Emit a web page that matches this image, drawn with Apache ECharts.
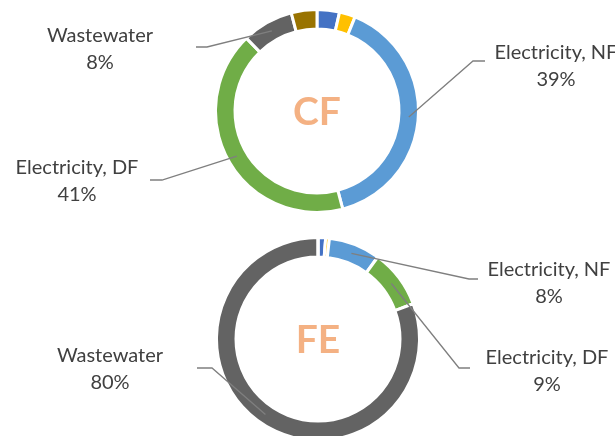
<!DOCTYPE html>
<html>
<head>
<meta charset="utf-8">
<script src="https://cdn.jsdelivr.net/npm/echarts@6/dist/echarts.min.js"></script>
<style>
html,body{margin:0;padding:0;background:#fff;}
#chart{width:615px;height:436px;}
</style>
</head>
<body>
<div id="chart"></div>
<script>
// ---- data ----
var categories = ['Other A', 'Other B', 'Electricity, NF', 'Electricity, DF', 'Wastewater', 'Other C'];
var cfValues = [3.5, 2.5, 39, 41, 8, 4];
var feValues = [1.2, 0.6, 8.2, 9.3, 80.4, 0];
var labeledCategories = ['Electricity, NF', 'Electricity, DF', 'Wastewater'];
var seriesNames = ['CF', 'FE'];
var colors = ['#4472C4', '#FFC000', '#5B9BD5', '#70AD47', '#636363', '#997300'];

// ---- layout (positions of labels / centers) ----
var centers = [[317, 111], [318, 339]];
var ringMid = 92;
var labelPos = {
  CF: {
    'Wastewater':      {x: 100, y: 22,  bx: 207, by: 47,  ex: 196, ey: 47},
    'Electricity, NF': {x: 556, y: 39,  bx: 473, by: 61,  ex: 485, ey: 61},
    'Electricity, DF': {x: 77,  y: 154, bx: 162, by: 180, ex: 150, ey: 180}
  },
  FE: {
    'Wastewater':      {x: 110, y: 342, bx: 212, by: 368, ex: 197, ey: 368},
    'Electricity, NF': {x: 549, y: 256, bx: 469, by: 279, ex: 478, ey: 279},
    'Electricity, DF': {x: 547, y: 344, bx: 459, by: 368, ex: 470, ey: 368}
  }
};

var chart = echarts.init(document.getElementById('chart'), null, {renderer: 'canvas'});

function buildData(values, withLabels) {
  return categories.map(function (c, i) {
    var show = withLabels && labeledCategories.indexOf(c) >= 0;
    return {
      name: c,
      value: values[i],
      itemStyle: withLabels ? {color: 'rgba(0,0,0,0)', borderWidth: 0} : {color: colors[i]},
      label: {show: show},
      labelLine: {show: show}
    };
  });
}

function makeLayout(si) {
  var name = seriesNames[si];
  var c = centers[si];
  return function (params) {
    var cat = categories[params.dataIndex];
    var p = labelPos[name][cat];
    if (!p) return {};
    var pts = params.labelLinePoints;
    var start = [c[0], c[1]];
    if (pts && pts[0]) {
      var dx = pts[0][0] - c[0], dy = pts[0][1] - c[1];
      var d = Math.sqrt(dx * dx + dy * dy) || 1;
      start = [c[0] + dx / d * ringMid, c[1] + dy / d * ringMid];
    }
    return {
      x: p.x, y: p.y, align: 'center', verticalAlign: 'top',
      labelLinePoints: [start, [p.bx, p.by], [p.ex, p.ey]]
    };
  };
}

var series = [];
// rings
seriesNames.forEach(function (n, si) {
  series.push({
    name: n,
    type: 'pie',
    center: centers[si],
    radius: [82, 101.5],
    startAngle: 90,
    clockwise: true,
    silent: true,
    animation: false,
    z: 2,
    itemStyle: {borderColor: '#ffffff', borderWidth: 3},
    label: {show: false},
    labelLine: {show: false},
    data: buildData(si === 0 ? cfValues : feValues, false)
  });
});
// label overlays (drawn on top so leader lines cross the ring)
seriesNames.forEach(function (n, si) {
  series.push({
    name: n + ' labels',
    type: 'pie',
    center: centers[si],
    radius: [82, 101.5],
    startAngle: 90,
    clockwise: true,
    avoidLabelOverlap: false,
    silent: true,
    animation: false,
    z: 5,
    itemStyle: {borderWidth: 0},
    label: {
      show: true,
      position: 'outside',
      formatter: function (p) { return p.name + '\n' + Math.round(p.value) + '%'; },
      fontFamily: 'Lato',
      fontSize: 20,
      lineHeight: 27,
      color: '#404040',
      align: 'center'
    },
    labelLine: {show: true, length: 15, length2: 10, lineStyle: {color: '#7F7F7F', width: 1.3}},
    labelLayout: makeLayout(si),
    data: buildData(si === 0 ? cfValues : feValues, true)
  });
});

chart.setOption({
  animation: false,
  graphic: seriesNames.map(function (n, si) {
    return {
      type: 'text',
      x: centers[si][0],
      y: centers[si][1] + 1,
      style: {
        text: n, fill: '#F4B183', font: 'bold 39px Lato',
        textAlign: 'center', textVerticalAlign: 'middle'
      }
    };
  }),
  series: series
});
</script>
</body>
</html>
